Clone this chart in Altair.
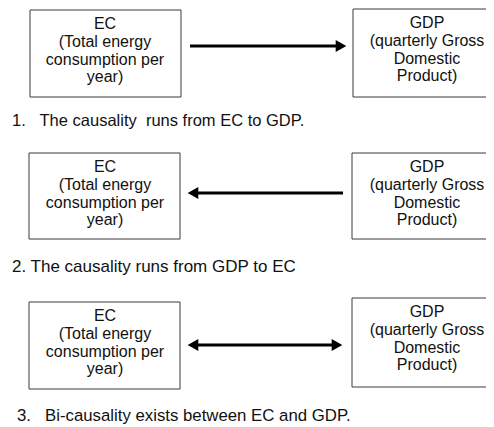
import altair as alt
import pandas as pd

# ---- content ----
left_lines = ["EC", "(Total energy", "consumption per", "year)"]
right_lines = ["GDP", "(quarterly Gross", "Domestic", "Product)"]
captions = [
    "1.\u00a0\u00a0\u00a0The causality\u00a0\u00a0runs from EC to GDP.",
    "2. The causality runs from GDP to EC",
    "3.\u00a0\u00a0\u00a0Bi-causality exists between EC and GDP.",
]
arrow_kind = ["right", "left", "both"]

# ---- layout (page pixel coordinates) ----
row_left_box = [(30, 10, 181, 97), (29, 153, 180, 239), (29, 302, 180, 389)]
row_right_box = [(353, 9, 500, 97), (352, 153, 500, 239), (352, 298, 500, 387)]
row_arrow = [(190, 347, 46), (187, 343, 193), (187, 343, 345)]
row_caption = [(12, 121), (12, 267), (17, 416)]
caption_size = [16.5, 17, 16.8]
line_offsets = [14, 32, 50, 67]
left_cx, right_cx = 105, 427

boxes, texts, lines, heads, caps = [], [], [], [], []
for i in range(3):
    for (x0, y0, x1, y1), lbls, cx in (
        (row_left_box[i], left_lines, left_cx),
        (row_right_box[i], right_lines, right_cx),
    ):
        boxes.append(dict(x=x0, y=y0, x2=x1, y2=y1))
        for off, t in zip(line_offsets, lbls):
            texts.append(dict(x=cx, y=y0 + off, t=t))
    ax0, ax1, ay = row_arrow[i]
    k = arrow_kind[i]
    hl = 8
    lx0 = ax0 + (hl if k in ("left", "both") else 0)
    lx1 = ax1 - (hl if k in ("right", "both") else 0)
    lines.append(dict(x=lx0, x2=lx1, y=ay))
    if k in ("right", "both"):
        heads.append(dict(x=ax1 - 6, y=ay, s="triangle-right"))
    if k in ("left", "both"):
        heads.append(dict(x=ax0 + 6, y=ay, s="triangle-left"))
    cx_, cy_ = row_caption[i]
    caps.append(dict(x=cx_, y=cy_, t=captions[i], fs=caption_size[i]))

W, H = 478, 417
xs = alt.Scale(domain=[8, 8 + W], nice=False, zero=False)
ys = alt.Scale(domain=[8, 8 + H], nice=False, zero=False, reverse=True)
X = lambda f: alt.X(f, type="quantitative", scale=xs, axis=None)
Y = lambda f: alt.Y(f, type="quantitative", scale=ys, axis=None)
FONT = "Liberation Sans"

box_layer = alt.Chart(pd.DataFrame(boxes)).mark_rect(
    fill="white", stroke="#3a3a3a", strokeWidth=1, clip=True
).encode(x=X("x"), x2="x2", y=Y("y"), y2="y2")

text_layer = alt.Chart(pd.DataFrame(texts)).mark_text(
    font=FONT, fontSize=16, color="#111111", align="center", baseline="middle"
).encode(x=X("x"), y=Y("y"), text="t:N")

line_layer = alt.Chart(pd.DataFrame(lines)).mark_rule(
    color="black", strokeWidth=3
).encode(x=X("x"), x2="x2", y=Y("y"))

head_layer = alt.Chart(pd.DataFrame(heads)).mark_point(
    filled=True, color="black", size=150, opacity=1
).encode(
    x=X("x"), y=Y("y"),
    shape=alt.Shape("s:N", scale=None, legend=None),
)

cap_layer = alt.Chart(pd.DataFrame(caps)).mark_text(
    font=FONT, color="#111111", align="left", baseline="middle"
).encode(
    x=X("x"), y=Y("y"), text="t:N",
    size=alt.Size("fs:Q", scale=None, legend=None),
)

chart = alt.layer(box_layer, line_layer, head_layer, text_layer, cap_layer).properties(
    width=W, height=H, padding=0, background="white",
    autosize=alt.AutoSizeParams(type="none"),
).configure_view(stroke=None)

chart.save("out.html", embed_options={"renderer": "svg", "actions": False})
